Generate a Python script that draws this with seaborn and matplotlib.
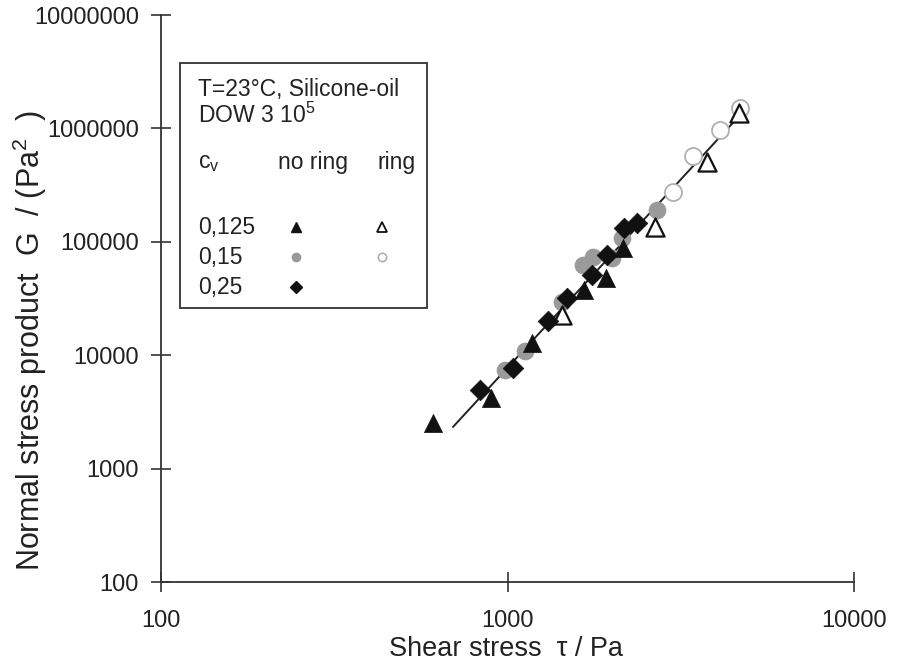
import numpy as np
import pandas as pd
import matplotlib
matplotlib.use("Agg")
import matplotlib.pyplot as plt
import seaborn as sns
from matplotlib.patches import Rectangle

sns.set_theme(style="white")
plt.rcParams['font.family'] = ['Liberation Sans', 'DejaVu Sans']
plt.rcParams['mathtext.fontset'] = 'custom'
plt.rcParams['mathtext.rm'] = 'Liberation Sans'
plt.rcParams['mathtext.it'] = 'Liberation Sans'

# ---- data ----
tri_x = [610, 896, 1177, 1662, 1923, 2155]
tri_y = [2520, 4200, 12800, 37600, 48000, 88100]

otri_x = [1436, 2665, 3764, 4656]
otri_y = [22600, 135000, 506000, 1370000]

dia_x = [833, 1037, 1309, 1485, 1753, 1937, 2169, 2364]
dia_y = [4930, 7710, 20000, 31900, 50900, 76600, 132000, 147000]

circ_x = [984, 1123, 1436, 1651, 1765, 2003, 2140, 2700]
circ_y = [7410, 10900, 29400, 62400, 73400, 71900, 108000, 190000]

ocirc_x = [3004, 3430, 4104, 4688]
ocirc_y = [275000, 571000, 968000, 1510000]

fit_x = [696, 4783]
fit_y = [2330, 1400000]

legend_title = ["T=23°C, Silicone-oil", "DOW 3 10$^5$"]
legend_cols = ["c$_\\mathrm{v}$", "no ring", "ring"]
legend_rows = ["0,125", "0,15", "0,25"]

x_ticks = [100, 1000, 10000]
y_ticks = [100, 1000, 10000, 100000, 1000000, 10000000]

TXT = "#222222"

fig = plt.figure(figsize=(9.04, 6.67), dpi=100)
ax = fig.add_axes([0.1781, 0.1274, 0.7666, 0.8501])

line_df = pd.DataFrame({"x": fit_x, "y": fit_y})
sns.lineplot(data=line_df, x="x", y="y", ax=ax, color="#222222", lw=1.4, zorder=1)

def scat(xs, ys, marker, s, fc, ec, lw, z):
    df = pd.DataFrame({"x": xs, "y": ys})
    sns.scatterplot(data=df, x="x", y="y", ax=ax, marker=marker, s=s,
                    color=fc, edgecolor=ec, linewidth=lw, zorder=z)

scat(ocirc_x, ocirc_y, "o", 150, "white", "#b0b0b0", 1.3, 2)
scat(circ_x, circ_y, "o", 150, "#9a9a9a", "#9a9a9a", 0.5, 3)
scat(otri_x, otri_y, "^", 170, "white", "#111111", 1.6, 4)
scat(tri_x, tri_y, "^", 170, "#111111", "#111111", 0.5, 5)
scat(dia_x, dia_y, "D", 110, "#111111", "#111111", 0.5, 6)

ax.set_xscale("log")
ax.set_yscale("log")
ax.set_xlim(100, 10000)
ax.set_ylim(100, 10000000)
ax.set_xticks(x_ticks)
ax.set_xticklabels([str(v) for v in x_ticks])
ax.set_yticks(y_ticks)
ax.set_yticklabels([str(v) for v in y_ticks])
ax.minorticks_off()
for s in ["top", "right"]:
    ax.spines[s].set_visible(False)
for s in ["left", "bottom"]:
    ax.spines[s].set_color("#333333")
    ax.spines[s].set_linewidth(1.3)
ax.tick_params(axis="both", which="major", direction="inout", length=14,
               width=1.2, color="#333333", labelsize=17, labelcolor=TXT,
               left=True, bottom=True)
ax.tick_params(axis="x", pad=13)
ax.tick_params(axis="y", pad=9)

ax.set_xlabel("Shear stress  τ / Pa", fontsize=19.5, color=TXT)
ax.set_ylabel("Normal stress product  G  / (Pa$^2$  )", fontsize=22, color=TXT)
ax.xaxis.set_label_coords(0.498, -0.095)
ax.yaxis.set_label_coords(-0.162, 0.425)

# legend box
ax.add_patch(Rectangle((0.0274, 0.483), 0.3566, 0.432, transform=ax.transAxes,
                       fill=False, ec="#333333", lw=1.3, zorder=7))
fs = 16.5
ax.text(0.0534, 0.8695, legend_title[0], transform=ax.transAxes, fontsize=fs, color=TXT, va="center")
ax.text(0.0534, 0.8236, legend_title[1], transform=ax.transAxes, fontsize=fs, color=TXT, va="center")
ax.text(0.0534, 0.7407, legend_cols[0], transform=ax.transAxes, fontsize=fs, color=TXT, va="center")
ax.text(0.1688, 0.7407, legend_cols[1], transform=ax.transAxes, fontsize=fs, color=TXT, va="center")
ax.text(0.3131, 0.7407, legend_cols[2], transform=ax.transAxes, fontsize=fs, color=TXT, va="center")
row_y = [0.626, 0.573, 0.520]
for lab, yy in zip(legend_rows, row_y):
    ax.text(0.0534, yy, lab, transform=ax.transAxes, fontsize=fs, color=TXT, va="center")
kx1, kx2 = 0.1948, 0.319
ax.plot([kx1], [row_y[0]], marker="^", ms=7, color="#111111", transform=ax.transAxes, ls="none")
ax.plot([kx2], [row_y[0]], marker="^", ms=7, mfc="white", mec="#111111", mew=1.3, transform=ax.transAxes, ls="none")
ax.plot([kx1], [row_y[1]], marker="o", ms=6, color="#9a9a9a", transform=ax.transAxes, ls="none")
ax.plot([kx2], [row_y[1]], marker="o", ms=6, mfc="white", mec="#b0b0b0", mew=1.2, transform=ax.transAxes, ls="none")
ax.plot([kx1], [row_y[2]], marker="D", ms=6, color="#111111", transform=ax.transAxes, ls="none")

fig.savefig("out.png", dpi=100)
